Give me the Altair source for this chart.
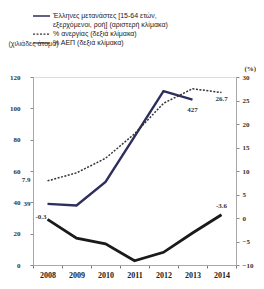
import altair as alt
import pandas as pd

years = ["2008", "2009", "2010", "2011", "2012", "2013", "2014"]
emigrants = [39, 38, 53, 82, 111, 105.5, None]          # thousands, left scale
unemployment = [7.9, 9.6, 12.7, 17.9, 24.4, 27.5, 26.7]  # %, right scale
gdp = [-0.3, -4.3, -5.5, -9.1, -7.3, -3.2, 0.7]          # %, right scale

left_ticks = [0, 20, 40, 60, 80, 100, 120]
right_ticks = [-10, -5, 0, 5, 10, 15, 20, 25, 30]

legend_rows = [
    "Έλληνες μετανάστες [15-64 ετών,",
    "εξερχόμενοι, ροή] (αριστερή κλίμακα)",
    "% ανεργίας (δεξιά κλίμακα)",
    "% ΑΕΠ (δεξιά κλίμακα)",
]

NAVY = "#2d2e5c"
BLACK = "#1a1a1a"
GREY = "#a8a8a8"
SERIF = "Liberation Serif"
SANS = "Liberation Sans"

df_em = pd.DataFrame({"year": years, "v": emigrants}).dropna()
df_un = pd.DataFrame({"year": years, "v": unemployment})
df_gdp = pd.DataFrame({"year": years, "v": gdp})

xscale = alt.Scale(type="band", domain=years, paddingInner=0, paddingOuter=0)
x_axis = alt.Axis(
    title=None, tickBand="extent", labelAngle=0, labelFont=SERIF, labelFontWeight="bold",
    labelFontSize=8, labelColor="#222", tickColor="#777", tickSize=3, domainColor=GREY,
    labelPadding=3, grid=False, labelOverlap=False,
)
x_enc = alt.X("year:O", scale=xscale, axis=x_axis, bandPosition=0.5)

lscale = alt.Scale(domain=[0, 120], nice=False, zero=False)
rscale = alt.Scale(domain=[-10, 30], nice=False, zero=False)

left_axis = alt.Axis(
    values=left_ticks, orient="left", grid=False, labelFont=SERIF, labelFontWeight="bold",
    labelFontSize=7, labelColor="#333", tickColor="#888", tickSize=3, domainColor=GREY,
    labelPadding=10, labelOverlap=False, title="(χιλιάδες άτομα)", titleAngle=0, titleAlign="left",
    titleBaseline="middle", titleX=-25, titleY=-34, titleFont=SANS, titleFontSize=7,
    titleFontWeight="normal", titleColor="#333",
)
right_axis = alt.Axis(
    values=right_ticks, orient="right", grid=False, labelFont=SERIF, labelFontWeight="bold",
    labelFontSize=7, labelColor="#333", tickColor="#888", tickSize=3, domainColor=GREY,
    labelPadding=3, labelOverlap=False, title="(%)", titleAngle=0, titleAlign="left", titleBaseline="middle",
    titleX=8, titleY=-9, titleFont=SERIF, titleFontSize=7, titleFontWeight="bold",
    titleColor="#333",
)

# left-scale group
navy_line = alt.Chart(df_em).mark_line(color=NAVY, strokeWidth=2.4).encode(
    x=x_enc, y=alt.Y("v:Q", scale=lscale, axis=left_axis)
)
lab_em = pd.DataFrame({"year": ["2008", "2013"], "v": [39, 105.5], "t": ["39", "427"]})
navy_lab1 = alt.Chart(lab_em.iloc[[0]]).mark_text(
    align="right", dx=-17, dy=0, font=SERIF, fontSize=7, fontWeight="bold", color="#333"
).encode(x=x_enc, y=alt.Y("v:Q", scale=lscale, axis=left_axis), text="t:N")
navy_lab2 = alt.Chart(lab_em.iloc[[1]]).mark_text(
    align="center", dx=0, dy=10, font=SERIF, fontSize=7, fontWeight="bold", color="#333"
).encode(x=x_enc, y=alt.Y("v:Q", scale=lscale, axis=left_axis), text="t:N")

# legend (drawn in the top padding)
rowscale = alt.Scale(type="point", domain=[0, 1, 2, 3], range=[-61, -34], padding=0)
leg_text = pd.DataFrame({"t": legend_rows, "row": [0, 1, 2, 3]})
legend_txt = alt.Chart(leg_text).mark_text(
    align="left", baseline="middle", font=SANS, fontSize=7, color="#222"
).encode(
    x=alt.value(20),
    y=alt.Y("row:O", scale=rowscale, axis=None),
    text="t:N",
)
leg_sym = pd.DataFrame({"row": [0, 2, 3], "s": ["em", "un", "gdp"]})
legend_sym = alt.Chart(leg_sym).mark_rule().encode(
    x=alt.value(0), x2=alt.value(17),
    y=alt.Y("row:O", scale=rowscale, axis=None),
    color=alt.Color("s:N", scale=alt.Scale(domain=["em", "un", "gdp"], range=[NAVY, "#333", BLACK]), legend=None),
    strokeDash=alt.StrokeDash("s:N", scale=alt.Scale(domain=["em", "un", "gdp"], range=[[1, 0], [2, 1.5], [1, 0]]), legend=None),
    strokeWidth=alt.StrokeWidth("s:N", scale=alt.Scale(domain=["em", "un", "gdp"], range=[1.3, 1.2, 1.5]), legend=None),
)

left_group = alt.layer(navy_line, navy_lab1, navy_lab2)

# right-scale group
un_line = alt.Chart(df_un).mark_line(color="#333", strokeWidth=1.5, strokeDash=[2, 1.5]).encode(
    x=x_enc, y=alt.Y("v:Q", scale=rscale, axis=right_axis)
)
gdp_line = alt.Chart(df_gdp).mark_line(color=BLACK, strokeWidth=2.8).encode(
    x=x_enc, y=alt.Y("v:Q", scale=rscale, axis=right_axis)
)
lab_r = pd.DataFrame({
    "year": ["2008", "2014", "2008", "2014"],
    "v": [7.9, 26.7, -0.3, 0.7],
    "t": ["7.9", "26.7", "-0.3", "-3.6"],
})
def rlab(i, align, dx, dy):
    return alt.Chart(lab_r.iloc[[i]]).mark_text(
        align=align, dx=dx, dy=dy, font=SERIF, fontSize=7, fontWeight="bold", color="#333"
    ).encode(x=x_enc, y=alt.Y("v:Q", scale=rscale, axis=right_axis), text="t:N")

right_group = alt.layer(
    un_line, gdp_line,
    rlab(0, "right", -17, -1), rlab(1, "center", 0, 6),
    rlab(2, "right", -1, -2), rlab(3, "center", 0, -9),
)

chart = alt.layer(left_group, right_group, legend_sym, legend_txt).resolve_scale(
    y="independent", color="independent", strokeDash="independent", strokeWidth="independent"
).properties(
    width=203, height=188,
    autosize=alt.AutoSizeParams(type="none"),
    padding={"left": 25, "top": 69, "right": 20, "bottom": 16},
).configure_view(stroke=None).configure(background="white")

chart.save("out.html", embed_options={"renderer": "svg", "actions": False})
